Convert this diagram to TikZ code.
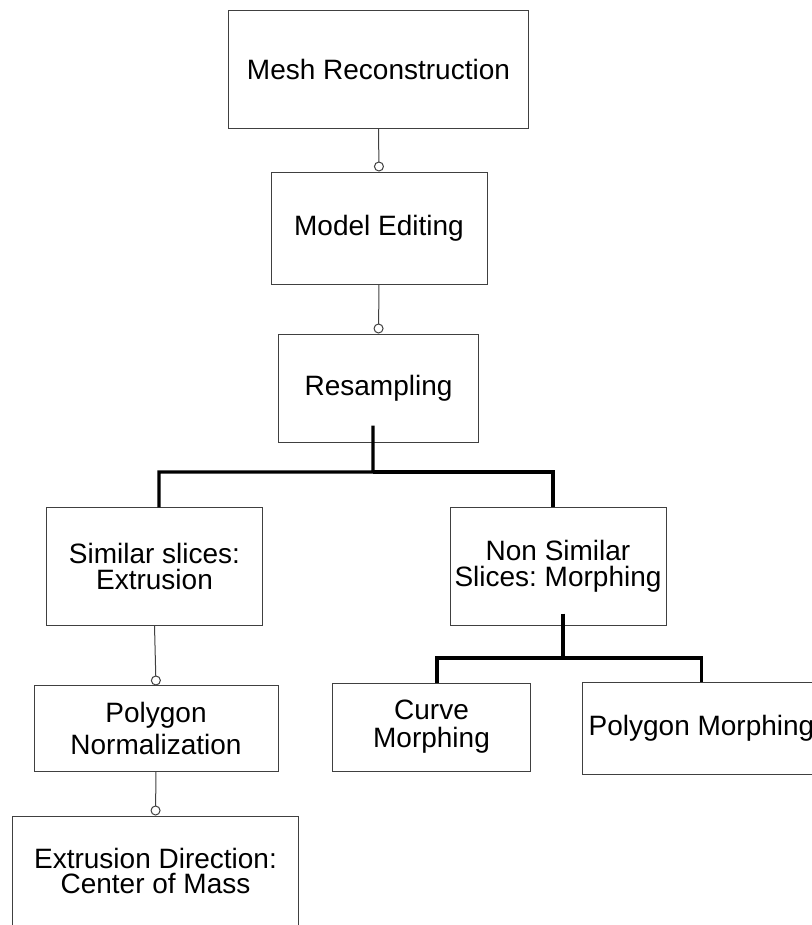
\documentclass[tikz,border=0pt]{standalone}
\usepackage{fontspec}
\setmainfont{Liberation Sans}
\usetikzlibrary{arrows.meta}
\usetikzlibrary{calc}
\frenchspacing

\begin{document}
\begin{tikzpicture}[x=0.75pt, y=-0.75pt,
		box/.style={draw=black!75, line width=0.75pt, rectangle, inner sep=0pt, align=center, font=\fontsize{21}{19.5}\selectfont},
		link/.style={draw=black!75, line width=0.75pt, -{Circle[open, length=7.5pt, width=7.5pt]}},
		tree/.style={draw=black, line width=2.4pt}]
			\useasboundingbox (0,0) rectangle (812,925);
			% upper chain
			\node[box, minimum width=224.3pt, minimum height=88.5pt] (mesh) at (378.5,69) {Mesh Reconstruction};
			\node[box, minimum width=162pt, minimum height=84pt] (edit) at (379,228) {Model Editing};
			\node[box, minimum width=149.3pt, minimum height=81pt] (res) at (378.5,388) {Resampling};
			% two branches
			\node[box, minimum width=161.3pt, minimum height=87.8pt] (sim) at (154.5,566.5) {Similar slices:\\Extrusion};
			\node[box, minimum width=162pt, minimum height=87.8pt] (non) at (558,566.5) {Non Similar\\Slices: Morphing};
			\node[box, minimum width=183pt, minimum height=63.8pt, font=\fontsize{21}{24.5}\selectfont] (norm) at (156,728.5) {Polygon\\Normalization};
			\node[box, minimum width=213.8pt, minimum height=82.5pt, font=\fontsize{21}{18.5}\selectfont] (extr) at (155.5,871) {Extrusion Direction:\\Center of Mass};
			\node[box, minimum width=147.8pt, minimum height=66pt, font=\fontsize{21}{21}\selectfont] (curve) at (431.5,727) {Curve\\Morphing};
			\node[box, minimum width=177.8pt, minimum height=68.3pt] (pmorph) at (701.5,728.5) {Polygon Morphing};
			\foreach \from/\to in {mesh/edit, edit/res, sim/norm, norm/extr}
			{
				\draw[link] (\from.south) -- (\to.north);
			}
			\coordinate (resFork) at (373,472);
			\coordinate (nonFork) at (563,658);
			\draw[tree] ([xshift=-4.1pt, yshift=12.75pt]res.south) -- (resFork) -| ([xshift=3.4pt]sim.north);
			\draw[tree] (resFork) -| ([xshift=-3.75pt]non.north);
			\draw[tree] ([xshift=3.75pt, yshift=9pt]non.south) -- (nonFork) -| ([xshift=4.1pt]curve.north);
			\draw[tree] (nonFork) -| (pmorph.north);
		\end{tikzpicture}
\end{document}
